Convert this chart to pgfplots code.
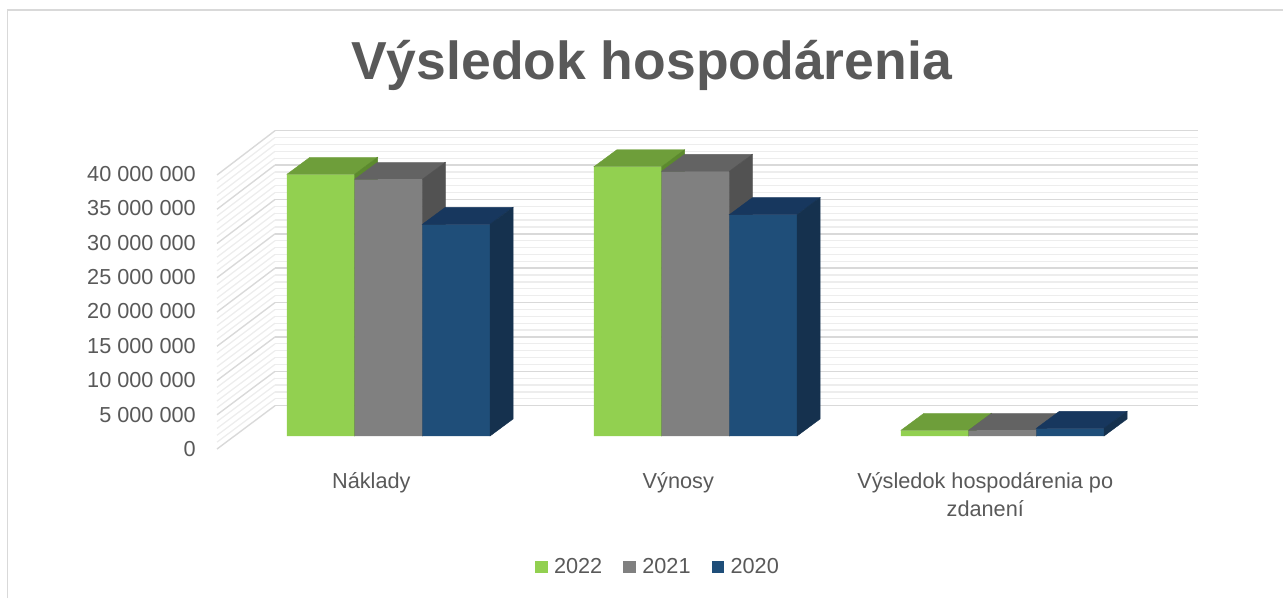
\documentclass[border=0pt]{standalone}
\usepackage{pgfplots}
\pgfplotsset{compat=1.18}
\usepackage{fontspec}
\setmainfont{Liberation Sans}
\definecolor{txt}{HTML}{595959}
\definecolor{gmaj}{HTML}{D9D9D9}
\definecolor{gmin}{HTML}{EDEDED}
\definecolor{gF}{HTML}{92D050}\definecolor{gT}{HTML}{6E9E3A}\definecolor{gS}{HTML}{5C8A2E}
\definecolor{rF}{HTML}{808080}\definecolor{rT}{HTML}{636363}\definecolor{rS}{HTML}{525252}
\definecolor{bF}{HTML}{1F4E79}\definecolor{bT}{HTML}{17375E}\definecolor{bS}{HTML}{15314E}
\pgfdeclareplotmark{none3d}{}
\newcommand\lf{\fontsize{21.7}{28}\selectfont}
% 3D faces drawn at each data point: #1 = right-edge offset (pt), #2 top colour, #3 side colour
\pgfplotsset{
  faces/.style n args={3}{only marks, scatter, mark=none3d, point meta=y, forget plot,
    scatter/@pre marker code/.code={%
      \pgfmathsetmacro\hh{\pgfplotspointmetatransformed*0.275}%
      \pgfmathsetmacro\yb{17-\hh}%
      \pgfmathsetmacro\xa{#1-67.7}%
      \pgfmathsetmacro\xb{#1}%
      \pgfmathsetmacro\xc{#1+23}%
      \pgfmathsetmacro\xd{#1-67.7+23}%
      \fill[#2] (\xa pt,0pt) -- (\xb pt,0pt) -- (\xc pt,17pt) -- (\xd pt,17pt) -- cycle;
      \fill[#3] (\xb pt,0pt) -- (\xc pt,17pt) -- (\xc pt,\yb pt) -- (\xb pt,-\hh pt) -- cycle;
    },
    scatter/@post marker code/.code={}}
}
\pgfplotstableread{
x y2022 y2021 y2020
0 38070000 37340000 30790000
1 39170000 38500000 32190000
2 830000 830000 1120000
}\data
\begin{document}
\begin{tikzpicture}[x=1pt,y=1pt]
\useasboundingbox (0pt,0pt) rectangle (1283pt,598pt);
\draw[gmaj, line width=1.5pt] (7.3pt,0pt) -- (7.3pt,588pt) -- (1283pt,588pt);
\node[anchor=base, text=txt, font=\fontsize{53.5}{60}\selectfont\bfseries, inner sep=0pt] at (651.5pt,518pt) {Výsledok hospodárenia};
% side wall grid lines
\foreach \k in {0,...,40}{
  \pgfmathsetmacro\ya{149+\k*6.85}
  \pgfmathsetmacro\yz{192.3+\k*6.875}
  \pgfmathtruncatemacro\m{mod(\k,5)}
  \ifnum\m=0 \draw[gmaj, line width=1.4pt] (217pt,\ya pt) -- (275pt,\yz pt);
  \else \draw[gmin, line width=1.3pt] (217pt,\ya pt) -- (275pt,\yz pt); \fi
}
% back wall
\begin{axis}[at={(275pt,192.3pt)}, anchor=south west, scale only axis,
  width=922.7pt, height=275pt, xmin=0, xmax=1, ymin=0, ymax=40000000,
  ytick={0,5000000,10000000,15000000,20000000,25000000,30000000,35000000,40000000},
  minor y tick num=4, ymajorgrids, yminorgrids, scaled y ticks=false,
  major grid style={draw=gmaj, line width=1.5pt},
  minor grid style={draw=gmin, line width=1.3pt},
  xtick=\empty, yticklabels={}, yticklabel style={opacity=0}, axis line style={draw=none}, tick style={draw=none}]
\end{axis}
% bars
\begin{axis}[at={(219.65pt,162pt)}, anchor=south west, scale only axis,
  width=951.7pt, height=275pt, xmin=-0.55, xmax=2.55, ymin=0, ymax=40000000,
  clip=false, clip marker paths=true, axis line style={draw=none}, tick style={draw=none},
  scaled y ticks=false,
  point meta min=0, point meta max=40000000,
  xtick={0,1,2},
  xticklabels={Náklady, Výnosy, {Výsledok hospodárenia po\\zdanení}},
  xticklabel style={align=center, anchor=north, inner sep=0pt, xshift=-17.2pt, yshift=-36pt, font=\lf, text=txt},
  ytick={0,5000000,10000000,15000000,20000000,25000000,30000000,35000000,40000000},
  yticklabels={0,5 000 000,10 000 000,15 000 000,20 000 000,25 000 000,30 000 000,35 000 000,40 000 000},
  yticklabel style={anchor=east, inner sep=0pt, xshift=-23.65pt, yshift=-13pt, font=\lf, text=txt},
  legend columns=-1,
  legend style={at={(0.3314,-0.4764)}, anchor=west, draw=none, fill=none, inner sep=0pt, outer sep=0pt,
    font=\lf, text=txt, nodes={inner sep=0pt},
    /tikz/every odd column/.append style={column sep=6.4pt},
    /tikz/every even column/.append style={column sep=21pt}},
  legend image code/.code={\fill[#1] (0pt,-6.3pt) rectangle (12.6pt,6.3pt);}
]
\addplot[ybar, bar width=0.2205, bar shift=-0.2205, fill=gF, draw=none] table[x=x,y=y2022] {\data};
\addlegendentry{2022}
\addplot[faces={-33.85}{gT}{gS}] table[x=x,y=y2022] {\data};
\addplot[ybar, bar width=0.2205, bar shift=0, fill=rF, draw=none] table[x=x,y=y2021] {\data};
\addlegendentry{2021}
\addplot[faces={33.85}{rT}{rS}] table[x=x,y=y2021] {\data};
\addplot[ybar, bar width=0.2205, bar shift=0.2205, fill=bF, draw=none] table[x=x,y=y2020] {\data};
\addlegendentry{2020}
\addplot[faces={101.55}{bT}{bS}] table[x=x,y=y2020] {\data};
\end{axis}
\end{tikzpicture}
\end{document}
